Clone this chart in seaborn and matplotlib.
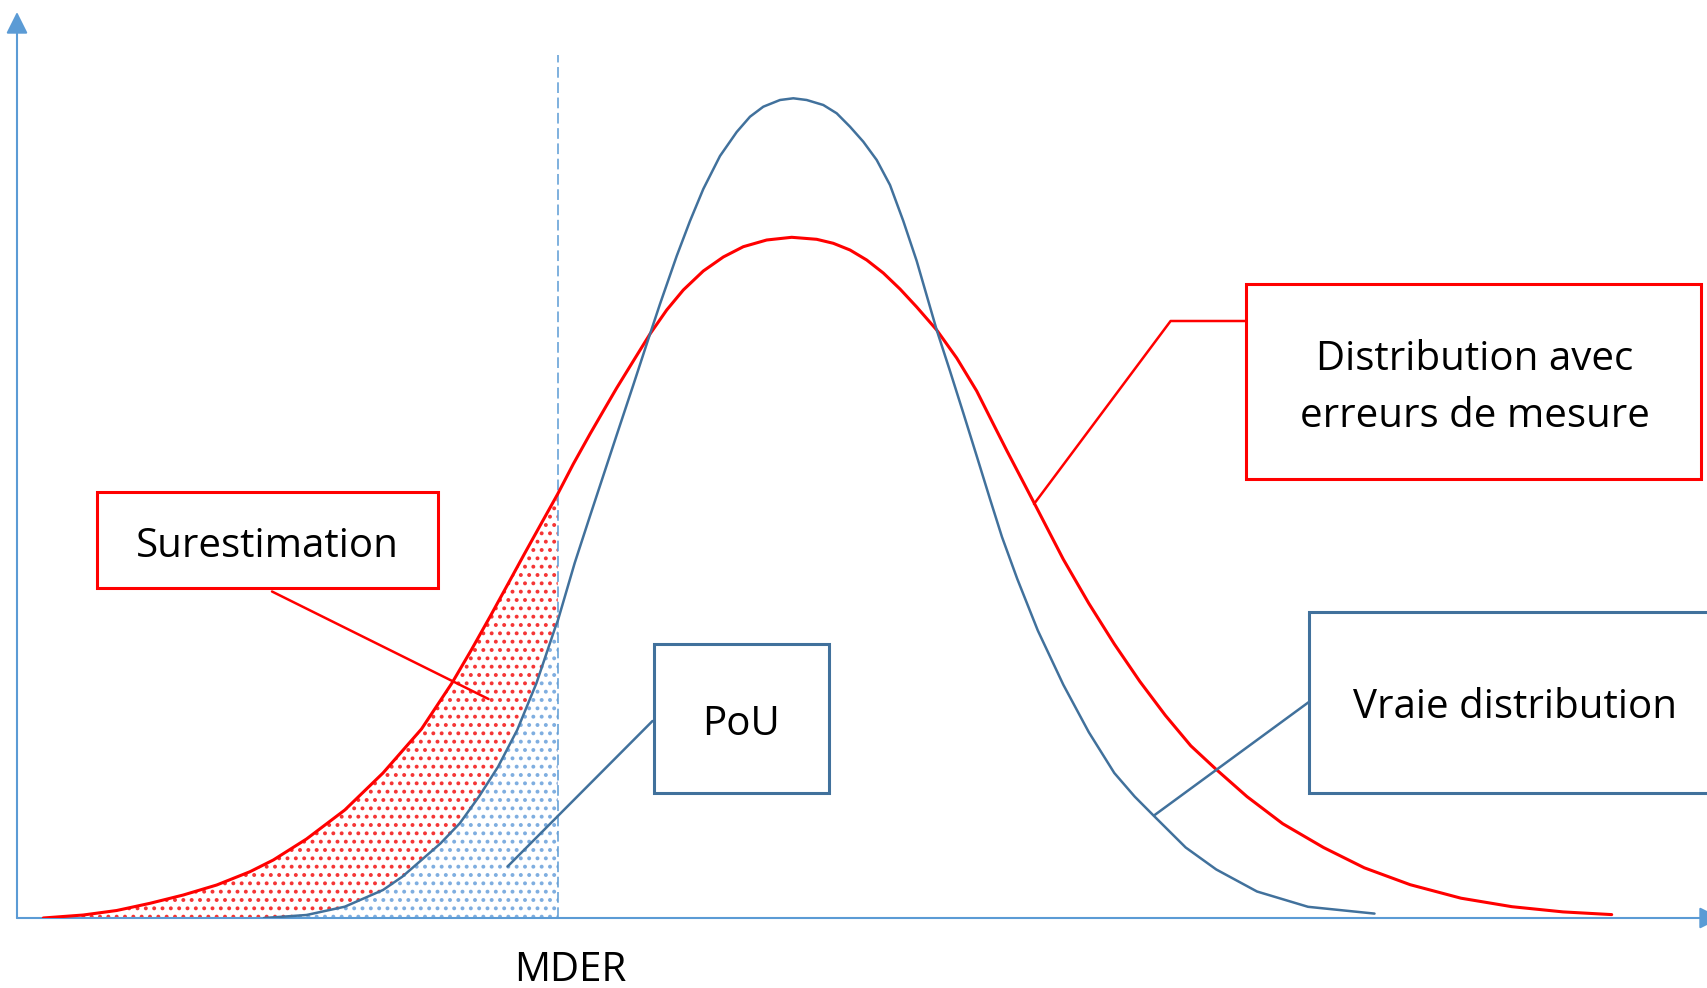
import numpy as np
import pandas as pd
import matplotlib
matplotlib.use("Agg")
import matplotlib.pyplot as plt
from matplotlib.patches import Rectangle
import seaborn as sns

# ---------------- data ----------------
# x: distance from the vertical axis, y: height above the horizontal axis
mder_x = 540.7

blue_x = [247, 289.5, 327.8, 366, 385.3, 404.5, 423.6, 442.8, 461.9, 481.1,
          500.2, 519.4, 538.5, 540.7, 557.7, 573, 599.7, 616.3, 629.7, 643,
          659.7, 673, 686.3, 703, 719.7, 733, 746.3, 763, 776.3, 789.7,
          806.3, 819.7, 833, 846.3, 859.7, 873, 886.3, 899.7, 919.7, 933,
          946.3, 959.7, 973, 985, 1000.3, 1020.8, 1046.3, 1071.8, 1097.3, 1117.7,
          1138, 1168.7, 1199.3, 1240, 1291, 1357.5]
blue_y = [0, 3, 11.3, 28, 41.3, 58, 74.7, 94.7, 121.3, 151.3,
          188, 234.7, 291.3, 297, 355, 402, 483, 533, 574, 614,
          662, 697, 729, 762, 786, 801.3, 811.3, 818, 819.7, 818,
          813, 804.7, 791.3, 776.3, 758, 733, 697, 657, 588, 547,
          505, 462, 419, 381, 339, 287.5, 233.3, 185.8, 145, 121.4,
          101, 70.5, 48.5, 26.5, 11.2, 4.4]

red_x = [26.3, 66.3, 99.7, 133, 166.3, 199.7, 233, 256.3, 289.5, 327.8,
         366, 404.5, 435, 454.3, 473.4, 492.6, 507.9, 525.1, 540.7, 556.3,
         573, 586.3, 599.7, 616.3, 633, 649.7, 666.3, 686.3, 706.3, 726.3,
         749.7, 774.7, 799.7, 816.3, 833, 849.7, 866.3, 883, 899.7, 919.7,
         939.7, 959.7, 976.3, 990, 1018.2, 1046.3, 1071.8, 1097.3, 1122.8, 1148.3,
         1173.8, 1199.3, 1230, 1265.7, 1306.5, 1347.3, 1393.2, 1444, 1495, 1546,
         1594.7]
red_y = [0, 3, 7.5, 14.7, 23, 33, 46.3, 58, 79, 108,
         145, 189, 235, 268, 302, 337, 365, 396, 424, 454,
         484, 507, 530, 557, 584, 608, 628, 647, 661, 671.3,
         678, 680.7, 678.7, 674.7, 668, 658, 645, 629, 611, 588,
         560, 527, 494, 467, 413, 358.7, 314.6, 274, 236.6, 202.7,
         172.2, 148.5, 121.4, 94.3, 70.5, 50.2, 33.3, 19.8, 11.3, 6.1,
         3.4]

label_mder = "MDER"
label_sur = "Surestimation"
label_pou = "PoU"
label_err = "Distribution avec\nerreurs de mesure"
label_true = "Vraie distribution"

# ---------------- style ----------------
sns.set_theme(style="white")
plt.rcParams['font.family'] = ['Open Sans', 'DejaVu Sans']
plt.rcParams['hatch.linewidth'] = 1.6
plt.rcParams['text.color'] = 'black'

RED = "#FF0000"
BLUE = "#41719C"
AXIS = "#5B9BD5"
DOT_BLUE = "#7FAEE0"
DOT_RED = "#F53535"

W, H = 1708, 988
fig = plt.figure(figsize=(W / 100, H / 100), dpi=100)
ax = fig.add_axes([17 / W, 70 / H, (W - 17) / W, 918 / H])
ax.set_xlim(0, W - 17)
ax.set_ylim(0, 918)
ax.set_axis_off()

df_blue = pd.DataFrame({"x": blue_x, "y": blue_y})
df_red = pd.DataFrame({"x": red_x, "y": red_y})

# hatched areas left of MDER
r_in = df_red[df_red.x <= mder_x]
b_in = df_blue[df_blue.x <= mder_x]
ax.fill_between(r_in.x, 0, r_in.y, facecolor="none", edgecolor=DOT_RED,
                hatch="..", linewidth=0, zorder=1)
ax.fill_between(b_in.x, 0, b_in.y, facecolor="white", edgecolor="none",
                linewidth=0, zorder=2)
ax.fill_between(b_in.x, 0, b_in.y, facecolor="none", edgecolor=DOT_BLUE,
                hatch="..", linewidth=0, zorder=2.5)

# curves
sns.lineplot(data=df_red, x="x", y="y", ax=ax, color=RED, linewidth=2.2,
             estimator=None, zorder=4)
sns.lineplot(data=df_blue, x="x", y="y", ax=ax, color=BLUE, linewidth=1.8,
             estimator=None, zorder=4)
ax.set_axis_off()
for ln in ax.get_lines():
    ln.set_solid_joinstyle("round")

# MDER dashed line
ax.plot([mder_x, mder_x], [0, 863], color=AXIS, linewidth=1.1,
        dashes=[7, 3], zorder=3)
ax.text(553, -63, label_mder, ha="center", va="baseline", fontsize=29,
        color="black", clip_on=False)

# axes with arrows
ax.annotate("", xy=(0, 906), xytext=(0, 0), annotation_clip=False,
            arrowprops=dict(arrowstyle="-|>,head_length=1.1,head_width=0.55",
                            color=AXIS, lw=1.5, shrinkA=0, shrinkB=0))
ax.annotate("", xy=(1704, 0), xytext=(0, 0), annotation_clip=False,
            arrowprops=dict(arrowstyle="-|>,head_length=1.1,head_width=0.55",
                            color=AXIS, lw=1.5, shrinkA=0, shrinkB=0))

# annotation boxes
def box(x0, y0, x1, y1, color):
    ax.add_patch(Rectangle((x0, y0), x1 - x0, y1 - y0, facecolor="white",
                           edgecolor=color, linewidth=2.2, zorder=6,
                           clip_on=False))

# Surestimation
box(80, 330, 421, 426, RED)
ax.plot([255, 471.5], [326.5, 219], color=RED, linewidth=1.8, zorder=5)
ax.text(250.5, 360.7, label_sur, ha="center", va="baseline", fontsize=29,
        color="black", zorder=7)

# PoU
box(637, 125, 812, 274, BLUE)
ax.plot([635.5, 490.6], [197, 51.5], color=BLUE, linewidth=1.8, zorder=5)
ax.text(724.5, 183, label_pou, ha="center", va="baseline", fontsize=29,
        color="black", zorder=7)

# Distribution avec erreurs de mesure
box(1229, 438.7, 1684.5, 633.5, RED)
ax.plot([1229, 1153.6, 1017], [597, 597, 414], color=RED, linewidth=1.8,
        zorder=5)
l1, l2 = label_err.split("\n")
ax.text(1457.5, 548, l1, ha="center", va="baseline", fontsize=29,
        color="black", zorder=7)
ax.text(1457.5, 491.3, l2, ha="center", va="baseline", fontsize=29,
        color="black", zorder=7)

# Vraie distribution
box(1292.3, 124.7, 1760, 306.3, BLUE)
ax.plot([1292.3, 1137], [216.3, 102.5], color=BLUE, linewidth=1.8, zorder=5)
ax.text(1498, 199.7, label_true, ha="center", va="baseline", fontsize=29,
        color="black", zorder=7)

fig.savefig("out.png", dpi=100, facecolor="white")
